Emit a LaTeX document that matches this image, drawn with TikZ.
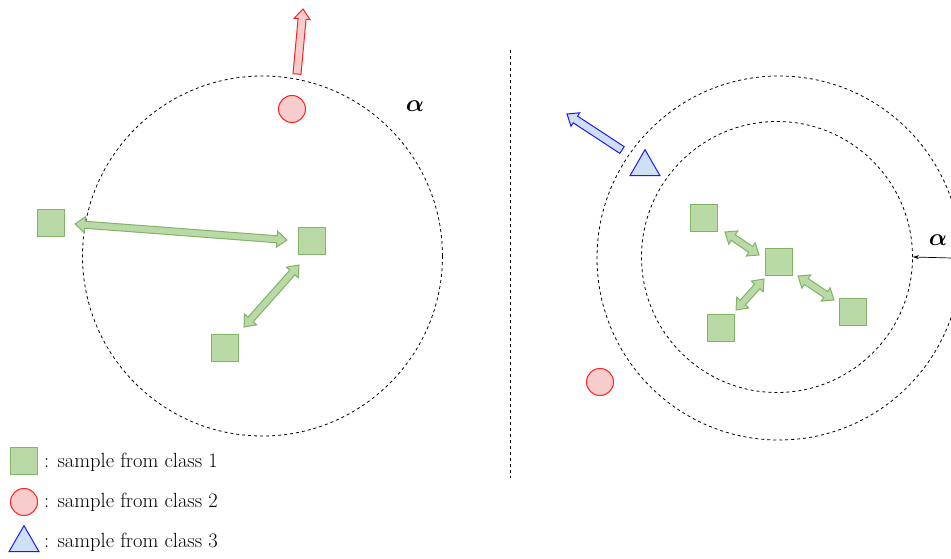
\RequirePackage{fix-cm}
\documentclass[tikz,border=0pt]{standalone}
\usepackage{amsmath,bm}
\usepackage{fontspec}
\usetikzlibrary{calc,arrows.meta,shapes.geometric}
\definecolor{gfill}{HTML}{B9D9A7}
\definecolor{gline}{HTML}{82B366}
\definecolor{rfill}{HTML}{F6CCCC}
\definecolor{rline}{HTML}{FF2020}
\definecolor{bfill}{HTML}{CFE0F4}
\definecolor{bline}{HTML}{1A1AFF}
\tikzset{
  sq/.style={draw=gline,fill=gfill,line width=1pt,minimum size=27pt,inner sep=0pt},
  rc/.style={circle,draw=rline,fill=rfill,line width=1pt,minimum size=27pt,inner sep=0pt},
  tri/.style={isosceles triangle,isosceles triangle apex angle=60,shape border rotate=90,draw=bline,fill=bfill,line width=1pt,minimum height=26pt,inner sep=0pt},
  ring/.style={draw,dashed,dash pattern=on 3pt off 3pt,line width=0.8pt},
  lab/.style={anchor=west,font=\fontsize{20.5}{24}\selectfont,inner sep=0pt},
  alab/.style={font=\fontsize{24}{28}\selectfont},
  garr/.style={draw=gline,fill=gfill,line width=1pt,line join=miter},
  rarr/.style={draw=rline,fill=rfill,line width=1pt,line join=miter},
  barr/.style={draw=bline,fill=bfill,line width=1pt,line join=miter},
}
% double fat arrow: #1 style, #2 tip A, #3 tip B
\newcommand\dfat[3]{%
  \path[#1]
   (#2) -- ($($(#2)!10pt!(#3)$)!8pt!90:(#3)$) -- ($($(#2)!10pt!(#3)$)!3.5pt!90:(#3)$)
   -- ($($(#3)!10pt!(#2)$)!3.5pt!-90:(#2)$) -- ($($(#3)!10pt!(#2)$)!8pt!-90:(#2)$)
   -- (#3) -- ($($(#3)!10pt!(#2)$)!8pt!90:(#2)$) -- ($($(#3)!10pt!(#2)$)!3.5pt!90:(#2)$)
   -- ($($(#2)!10pt!(#3)$)!3.5pt!-90:(#3)$) -- ($($(#2)!10pt!(#3)$)!8pt!-90:(#3)$) -- cycle;}
% single fat arrow: #1 style, #2 tail, #3 tip
\newcommand\sfat[3]{%
  \path[#1]
   ($(#2)!4pt!90:(#3)$) -- ($($(#3)!10pt!(#2)$)!4pt!-90:(#2)$) -- ($($(#3)!10pt!(#2)$)!8pt!-90:(#2)$)
   -- (#3) -- ($($(#3)!10pt!(#2)$)!8pt!90:(#2)$) -- ($($(#3)!10pt!(#2)$)!4pt!90:(#2)$)
   -- ($(#2)!4pt!-90:(#3)$) -- cycle;}
\begin{document}
\begin{tikzpicture}[x=1pt,y=-1pt]
\useasboundingbox (0,0) rectangle (951,559);
% left panel
\node[circle,ring,minimum size=360pt,inner sep=0pt] (c1) at (262.5,256) {};
\node[rc] (r1) at (292,109) {};
\node[alab] (a1) at (415,106) {$\bm{\alpha}$};
\node[sq] (s1) at (50.5,222.5) {};
\node[sq] (s2) at (311.5,240.5) {};
\node[sq] (s3) at (225,347.5) {};
\coordinate (t1a) at (75,224);
\coordinate (t1b) at (287,240);
\coordinate (t2a) at (299,265);
\coordinate (t2b) at (244,327);
\dfat{garr}{t1a}{t1b}
\dfat{garr}{t2a}{t2b}
\coordinate (rt0) at (297,74);
\coordinate (rt1) at (303,9);
\sfat{rarr}{rt0}{rt1}
% separator
\coordinate (v0) at (510,50);
\coordinate (v1) at (510,478);
\draw[ring,line width=0.7pt] (v0) -- (v1);
% right panel
\node[circle,ring,minimum size=364pt,inner sep=0pt] (c2) at (779,258) {};
\node[circle,ring,minimum size=271pt,inner sep=0pt] (c3) at (777,257) {};
\node[tri] (b1) at (645,167) {};
\coordinate (bt0) at (622,150);
\coordinate (bt1) at (567,114);
\sfat{barr}{bt0}{bt1}
\node[rc] (r2) at (600,382) {};
\node[sq] (q0) at (779,262) {};
\node[sq] (q1) at (704,218) {};
\node[sq] (q2) at (721,327.5) {};
\node[sq] (q3) at (852.5,311.5) {};
\coordinate (u1a) at (725,232);
\coordinate (u1b) at (759,255);
\coordinate (u2a) at (736,310);
\coordinate (u2b) at (764,279);
\coordinate (u3a) at (798,276);
\coordinate (u3b) at (834,300);
\dfat{garr}{u1a}{u1b}
\dfat{garr}{u2a}{u2b}
\dfat{garr}{u3a}{u3b}
\node[alab] (a2) at (938,240) {$\bm{\alpha}$};
\coordinate (ae) at (952,258);
\draw[line width=0.7pt,-{Stealth[length=6pt,width=4pt]}] (ae) -- (c3.east);
% legend
\node[sq] (ls) at (24,461) {};
\node[lab] (lt1) at (44,462) {: sample from class 1};
\node[rc] (lc) at (24,502) {};
\node[lab] (lt2) at (44,502) {: sample from class 2};
\node[tri] (lb) at (24,543) {};
\node[lab] (lt3) at (44,542) {: sample from class 3};
\end{tikzpicture}
\end{document}
